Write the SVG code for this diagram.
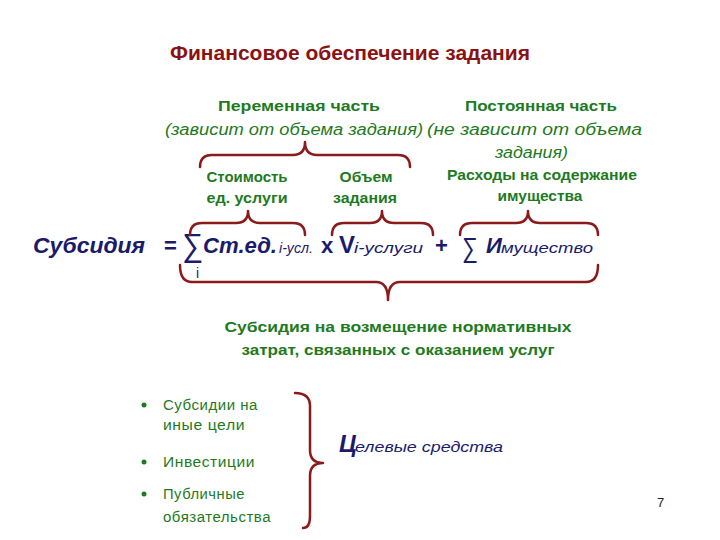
<svg xmlns="http://www.w3.org/2000/svg" width="720" height="540" viewBox="0 0 720 540">
<style>
.t{font-family:"Liberation Sans",Arial,sans-serif}
.title{font-size:20px;font-weight:bold;fill:#8B1212}
.g{font-family:"Liberation Sans",Arial,sans-serif;fill:#1E7A1E}
.gb{font-size:15px;font-weight:bold}
.gi{font-size:16px;font-style:italic}
.gs{font-size:14px;font-weight:bold}
.gl{font-size:14px;letter-spacing:0.5px}
.n{font-family:"Liberation Sans",Arial,sans-serif;fill:#1B1B6B}
.nb{font-size:22px;font-weight:bold;font-style:italic}
.ns{font-size:14px;font-style:italic}
.br{fill:none;stroke:#8B1A1A;stroke-width:2.5;stroke-linecap:round;stroke-linejoin:round}
</style>
<rect width="720" height="540" fill="#ffffff"/>
<g id="title"><text class="t title" x="170" y="60" textLength="360" lengthAdjust="spacingAndGlyphs">Финансовое обеспечение задания</text></g>
<g id="variable">
<text class="g gb" x="299" y="111" text-anchor="middle" textLength="162" lengthAdjust="spacingAndGlyphs">Переменная часть</text>
<text class="g gi" x="165" y="135" textLength="258" lengthAdjust="spacingAndGlyphs">(зависит от объема задания)</text>
</g>
<g id="constant">
<text class="g gb" x="541" y="111" text-anchor="middle" textLength="152" lengthAdjust="spacingAndGlyphs">Постоянная часть</text>
<text class="g gi" x="427" y="135" textLength="215" lengthAdjust="spacingAndGlyphs">(не зависит от объема</text>
<text class="g gi" x="495" y="158" textLength="73" lengthAdjust="spacingAndGlyphs">задания)</text>
</g>
<g id="cost">
<text class="g gs" x="247" y="182" text-anchor="middle" textLength="81" lengthAdjust="spacingAndGlyphs">Стоимость</text>
<text class="g gs" x="247" y="203" text-anchor="middle" textLength="81" lengthAdjust="spacingAndGlyphs">ед. услуги</text>
</g>
<g id="volume">
<text class="g gs" x="366" y="182" text-anchor="middle" textLength="53" lengthAdjust="spacingAndGlyphs">Объем</text>
<text class="g gs" x="365" y="203" text-anchor="middle" textLength="64" lengthAdjust="spacingAndGlyphs">задания</text>
</g>
<g id="property">
<text class="g gs" x="542" y="180" text-anchor="middle" textLength="190" lengthAdjust="spacingAndGlyphs">Расходы на содержание</text>
<text class="g gs" x="540" y="201" text-anchor="middle" textLength="85" lengthAdjust="spacingAndGlyphs">имущества</text>
</g>
<g id="formula">
<text class="n nb" x="33" y="253" font-size="23" textLength="112" lengthAdjust="spacingAndGlyphs">Субсидия</text>
<text class="n" x="164" y="253" font-size="22" font-weight="bold">=</text>
<text class="n" x="182" y="256" font-size="32" textLength="21" lengthAdjust="spacingAndGlyphs">∑</text>
<text class="n" x="196" y="278" font-size="14">i</text>
<text class="n nb" x="203" y="253" textLength="74" lengthAdjust="spacingAndGlyphs">Ст.ед.</text>
<text class="n ns" x="279" y="253" textLength="34" lengthAdjust="spacingAndGlyphs">i-усл.</text>
<text class="n" x="321" y="253" font-size="22" font-weight="bold">x</text>
<text class="n" x="339" y="253" font-size="24" font-weight="bold">V</text>
<text class="n ns" x="354" y="253" textLength="69" lengthAdjust="spacingAndGlyphs">i-услуги</text>
<text class="n" x="435" y="253" font-size="22" font-weight="bold">+</text>
<text class="n" x="462" y="257" font-size="28" textLength="16" lengthAdjust="spacingAndGlyphs">∑</text>
<text class="n nb" x="486" y="253">И</text>
<text class="n ns" x="501" y="253" textLength="92" lengthAdjust="spacingAndGlyphs">мущество</text>
</g>
<g id="subsidy">
<text class="g gb" x="398" y="332" text-anchor="middle" textLength="347" lengthAdjust="spacingAndGlyphs">Субсидия на возмещение нормативных</text>
<text class="g gb" x="398" y="355" text-anchor="middle" textLength="313" lengthAdjust="spacingAndGlyphs">затрат, связанных с оказанием услуг</text>
</g>
<g id="list">
<circle cx="144" cy="405" r="2.5" fill="#1E7A1E"/>
<text class="g gl" x="163" y="410" textLength="95" lengthAdjust="spacingAndGlyphs">Субсидии на</text>
<text class="g gl" x="163" y="430" textLength="82" lengthAdjust="spacingAndGlyphs">иные цели</text>
<circle cx="144" cy="462" r="2.5" fill="#1E7A1E"/>
<text class="g gl" x="163" y="467" textLength="92" lengthAdjust="spacingAndGlyphs">Инвестиции</text>
<circle cx="144" cy="494" r="2.5" fill="#1E7A1E"/>
<text class="g gl" x="163" y="499" textLength="82" lengthAdjust="spacingAndGlyphs">Публичные</text>
<text class="g gl" x="163" y="522" textLength="108" lengthAdjust="spacingAndGlyphs">обязательства</text>
</g>
<g id="target">
<text class="n" x="339" y="452" font-size="24" font-weight="bold" font-style="italic">Ц</text>
<text class="n ns" x="355" y="452" font-size="13" textLength="148" lengthAdjust="spacingAndGlyphs">елевые средства</text>
</g>
<g id="page"><text class="t" x="657" y="507" font-size="13" fill="#222">7</text></g>
<g id="connectors">
<path class="br" d="M200,167 Q200,155 212,155 L293,155 Q305,155 305,142 Q305,155 317,155 L398,155 Q410,155 410,167"/>
<path class="br" d="M190,235 Q190,223 202,223 L236,223 Q248,223 248,211 Q248,223 260,223 L293,223 Q305,223 305,235"/>
<path class="br" d="M332,235 Q332,223 344,223 L370,223 Q382,223 382,211 Q382,223 394,223 L421,223 Q433,223 433,235"/>
<path class="br" d="M460,235 Q460,223 472,223 L516,223 Q528,223 528,211 Q528,223 540,223 L586,223 Q598,223 598,235"/>
<path class="br" d="M180,265 Q180,282 192,282 L376,282 Q388,282 388,300 Q388,282 400,282 L586,282 Q598,282 598,265"/>
<path class="br" d="M295,393 Q310,393 310,406 L310,450 Q310,463 323,463 Q310,463 310,476 L310,516 Q310,528 303,528"/>
</g>
</svg>
